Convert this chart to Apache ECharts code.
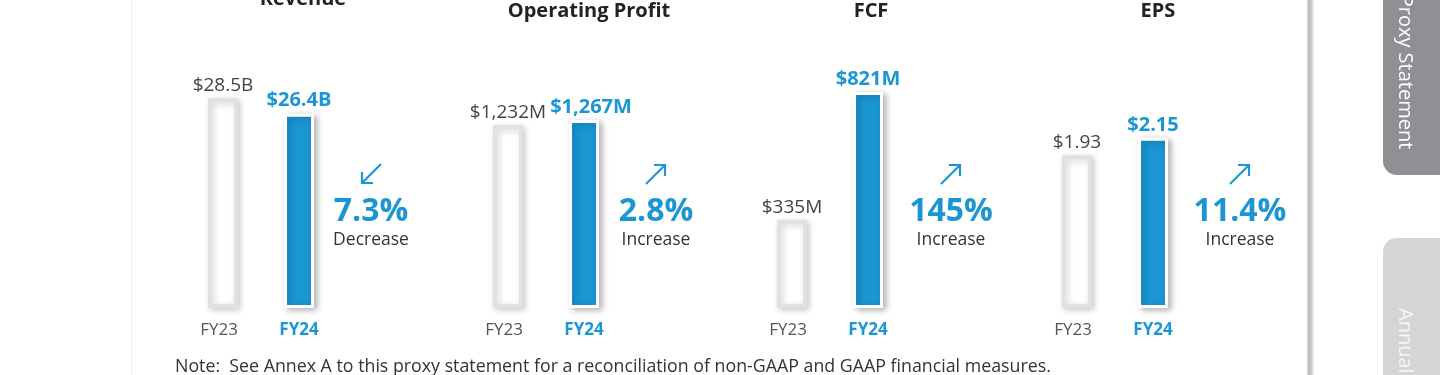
<!DOCTYPE html>
<html>
<head>
<meta charset="utf-8">
<title>FY24 highlights</title>
<script src="https://cdn.jsdelivr.net/npm/echarts@6/dist/echarts.min.js"></script>
<style>
    html, body { margin: 0; padding: 0; background: #fff; }
    #main { width: 1440px; height: 375px; }
</style>
</head>
<body>
<div id="main"></div>
<script>
/* chart data */
var panelTitles = ['Revenue', 'Operating Profit', 'FCF', 'EPS']
var categories = ['FY23', 'FY24']
var fy23Values = [28.5, 1232, 335, 1.93]
var fy24Values = [26.4, 1267, 821, 2.15]
var fy23Labels = ['$28.5B', '$1,232M', '$335M', '$1.93']
var fy24Labels = ['$26.4B', '$1,267M', '$821M', '$2.15']
var changeValues = ['7.3%', '2.8%', '145%', '11.4%']
var changeWords = ['Decrease', 'Increase', 'Increase', 'Increase']
var noteText = 'Note:  See Annex A to this proxy statement for a reconciliation of non-GAAP and GAAP financial measures.'

// layout per panel
var gridLeft = [185, 470, 754, 1039]
var axisMax = [29.9, 1483, 836, 2.78]
var titleX = [303, 589, 871, 1158]
var titleY = [-11, 1, 1, 1]
var changeX = [371, 656, 951, 1240]
var labelShift = [[0, 0], [0, 7], [0, 0], [0, 0]]

var BLUE = '#1b96d3'
var FONT = '"Open Sans", Lato, sans-serif'

var myChart = echarts.init(document.getElementById('main'), null, { renderer: 'canvas' })

var grids = [], xAxes = [], yAxes = [], series = [], graphics = []

for (var i = 0; i < panelTitles.length; i++) {
    grids.push({ left: gridLeft[i], top: 88, width: 152, height: 220 })
    xAxes.push({
        type: 'category',
        gridIndex: i,
        data: categories,
        axisLine: { show: false },
        axisTick: { show: false },
        axisLabel: {
            margin: 14,
            formatter: function (v) {
                return v === 'FY24' ? '{b|' + v + '}' : '{a|' + v + '}'
            },
            rich: {
                a: { fontFamily: FONT, fontSize: 17, color: '#555', padding: [0, 8, 0, 0] },
                b: { fontFamily: FONT, fontSize: 17, fontWeight: 'bold', color: BLUE }
            }
        }
    })
    yAxes.push({
        type: 'value',
        gridIndex: i,
        min: 0,
        max: axisMax[i],
        show: false,
        splitLine: { show: false }
    })
    series.push({
        type: 'bar',
        xAxisIndex: i,
        yAxisIndex: i,
        barWidth: 30,
        data: [{
            value: fy23Values[i],
            itemStyle: {
                color: '#fff',
                borderColor: '#e1e1e1',
                borderWidth: 4,
                shadowBlur: 6,
                shadowColor: 'rgba(0,0,0,0.18)',
                shadowOffsetX: 2,
                shadowOffsetY: 2
            },
            label: {
                show: true,
                position: 'top',
                distance: 3,
                offset: [labelShift[i][0], 0],
                formatter: fy23Labels[i],
                fontFamily: FONT,
                fontSize: 19,
                color: '#444'
            }
        }, {
            value: fy24Values[i],
            itemStyle: {
                color: BLUE,
                borderColor: '#fff',
                borderWidth: 3,
                shadowBlur: 6,
                shadowColor: 'rgba(0,0,0,0.25)',
                shadowOffsetX: 3,
                shadowOffsetY: 2
            },
            label: {
                show: true,
                position: 'top',
                distance: 3,
                offset: [labelShift[i][1], 0],
                formatter: fy24Labels[i],
                fontFamily: FONT,
                fontSize: 20,
                fontWeight: 'bold',
                color: BLUE
            }
        }]
    })

    // panel title
    graphics.push({
        type: 'text',
        style: {
            text: panelTitles[i],
            x: titleX[i],
            y: titleY[i],
            textAlign: 'center',
            font: 'bold 20px ' + FONT,
            fill: '#222'
        }
    })

    // change arrow
    var cx = changeX[i], cy = 174, down = changeWords[i] === 'Decrease'
    if (down) {
        graphics.push({ type: 'line', shape: { x1: cx + 10, y1: cy - 10, x2: cx - 9, y2: cy + 9 }, style: { stroke: BLUE, lineWidth: 2.2 } })
        graphics.push({ type: 'polyline', shape: { points: [[cx - 9, cy - 2], [cx - 9, cy + 9], [cx + 2, cy + 9]] }, style: { stroke: BLUE, lineWidth: 2.2, fill: null } })
    } else {
        graphics.push({ type: 'line', shape: { x1: cx - 10, y1: cy + 10, x2: cx + 9, y2: cy - 9 }, style: { stroke: BLUE, lineWidth: 2.2 } })
        graphics.push({ type: 'polyline', shape: { points: [[cx - 2, cy - 9], [cx + 9, cy - 9], [cx + 9, cy + 2]] }, style: { stroke: BLUE, lineWidth: 2.2, fill: null } })
    }
    graphics.push({
        type: 'text',
        style: {
            text: changeValues[i],
            x: cx,
            y: 212,
            textAlign: 'center',
            textVerticalAlign: 'middle',
            font: 'bold 32px ' + FONT,
            fill: BLUE
        }
    })
    graphics.push({
        type: 'text',
        style: {
            text: changeWords[i],
            x: cx,
            y: 240,
            textAlign: 'center',
            textVerticalAlign: 'middle',
            font: '17.5px ' + FONT,
            fill: '#333'
        }
    })
}

// card edges
graphics.push({ type: 'line', shape: { x1: 131.5, y1: 0, x2: 131.5, y2: 375 }, style: { stroke: '#ececec', lineWidth: 1 } })
graphics.push({
    type: 'rect',
    shape: { x: 1307, y: 0, width: 7, height: 375 },
    style: {
        fill: new echarts.graphic.LinearGradient(0, 0, 1, 0, [
            { offset: 0, color: '#d6d6d6' },
            { offset: 0.4, color: '#b9b9b9' },
            { offset: 1, color: '#f2f2f2' }
        ])
    }
})

// side tabs
graphics.push({ type: 'rect', shape: { x: 1383, y: -20, width: 80, height: 195, r: [0, 0, 0, 14] }, style: { fill: '#8f9093' } })
graphics.push({
    type: 'text',
    x: 1405,
    y: 72,
    rotation: -Math.PI / 2,
    style: { text: 'Proxy Statement', x: 0, y: 0, textAlign: 'center', textVerticalAlign: 'middle', font: '20px ' + FONT, fill: '#fff' }
})
graphics.push({ type: 'rect', shape: { x: 1383, y: 238, width: 80, height: 160, r: [14, 0, 0, 0] }, style: { fill: '#d4d5d7' } })
graphics.push({
    type: 'text',
    x: 1405,
    y: 308,
    rotation: -Math.PI / 2,
    style: { text: 'Annual Report', x: 0, y: 0, textAlign: 'left', textVerticalAlign: 'middle', font: '20px ' + FONT, fill: '#f7f7f7' }
})

// note
graphics.push({
    type: 'text',
    style: { text: noteText, x: 175, y: 367, textVerticalAlign: 'middle', font: '17.8px ' + FONT, fill: '#333' }
})

var option = {
    backgroundColor: '#fff',
    animation: false,
    grid: grids,
    xAxis: xAxes,
    yAxis: yAxes,
    series: series,
    graphic: { elements: graphics }
}

myChart.setOption(option)
window.onresize = myChart.resize
</script>
</body>
</html>
